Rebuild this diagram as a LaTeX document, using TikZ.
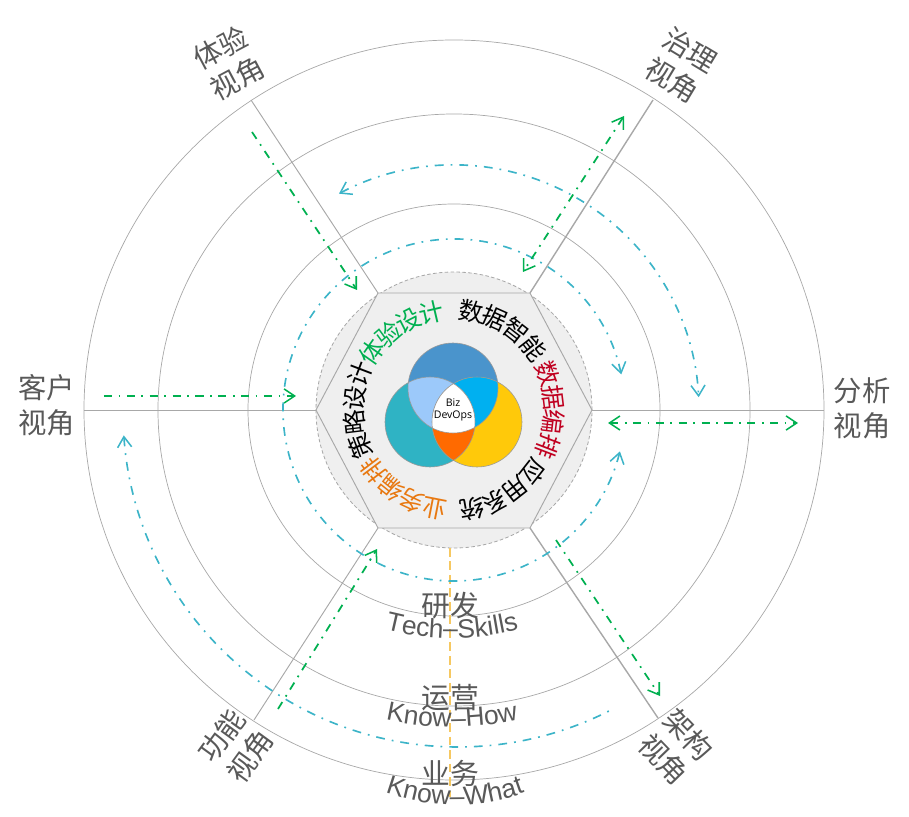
\documentclass[tikz,border=0pt]{standalone}
\usepackage{fontspec}
\setsansfont{Liberation Sans}
\newfontfamily\cjk{Noto Sans CJK SC}
\newfontfamily\venntext{Open Sans}
\usetikzlibrary{arrows.meta,decorations.text}

\definecolor{ringgray}{HTML}{A8A8A8}
\definecolor{lblgray}{HTML}{595959}
\definecolor{hexfill}{HTML}{EFEFEF}
\definecolor{arcteal}{HTML}{3CB4C8}
\definecolor{flowgreen}{HTML}{00B050}
\definecolor{axisorange}{HTML}{F6C861}
\definecolor{vennTop}{HTML}{4A94CC}
\definecolor{vennLeft}{HTML}{2FB3C4}
\definecolor{vennRight}{HTML}{FFC90A}
\definecolor{vennTL}{HTML}{9CC9FA}
\definecolor{vennTR}{HTML}{00B0F0}
\definecolor{vennLR}{HTML}{FF6A00}
\definecolor{txtgreen}{HTML}{00B050}
\definecolor{txtred}{HTML}{C00020}
\definecolor{txtorange}{HTML}{E87810}

\tikzset{
  ringline/.style={draw=ringgray, line width=0.6pt},
  spokeline/.style={draw=ringgray, line width=0.8pt},
  tealarc/.style={draw=arcteal, line width=1.4pt, dash pattern=on 7.5pt off 6pt on 1.5pt off 6pt},
  greenflow/.style={draw=flowgreen, line width=1.5pt, dash pattern=on 7pt off 5.5pt on 1.5pt off 5.5pt},
  barb/.style={{Straight Barb[length=9pt,width=12pt,line width=1.3pt]}-{Straight Barb[length=9pt,width=12pt,line width=1.3pt]}},
  viewlbl/.style={font=\cjk\fontsize{24.2}{29.8}\selectfont, text=lblgray, align=center, inner sep=0pt},
  levellbl/.style={font=\cjk\fontsize{24.6}{28}\selectfont, text=lblgray, inner sep=0pt},
  bizlbl/.style={font=\venntext\fontsize{9}{11}\selectfont, text=black, inner sep=0pt}
}

% label on the hexagon, clockwise round the centre
\newcommand{\hexlabel}[3]{
  \path[decorate, decoration={text along path, text align=center, raise=-8.5pt,
      text={|\cjk\fontsize{21}{24}\selectfont\color{#2}|#3}}]
    (#1+42:101) arc[start angle=#1+42, end angle=#1-42, radius=101];
}
% latin label on a shallow arc
\newcommand{\levelarc}[3]{
  \path[decorate, decoration={text along path, text align=center,
      text={|\sffamily\fontsize{22.6}{24}\selectfont\color{lblgray}|#3}}]
    #1 ++(230:#2) arc[start angle=230, end angle=310, radius=#2];
}

\begin{document}
\begin{tikzpicture}[x=0.03cm, y=0.03cm]
  \useasboundingbox (-454,410) rectangle (455,-406);

  %--- Rings ---
  \foreach \r in {206,296,370} {
    \draw[ringline] (0,0) circle[radius=\r];
  }

  %--- Hexagon corners and ends of the spokes ---
  \coordinate (hexW) at (-138,0);
  \coordinate (hexNW) at (-76,117);
  \coordinate (hexNE) at (76,117);
  \coordinate (hexE) at (138,0);
  \coordinate (hexSE) at (76,-118);
  \coordinate (hexSW) at (-76,-118);
  \coordinate (endW) at (-370,0);
  \coordinate (endNW) at (-203,310);
  \coordinate (endNE) at (199,310);
  \coordinate (endE) at (370,0);
  \coordinate (endSE) at (204,-308);
  \coordinate (endSW) at (-200,-310);
  \foreach \p in {W,NW,E,SW} {
    \draw[spokeline] (hex\p) -- (end\p);
  }
  \foreach \p in {NE,SE} {
    \draw[spokeline, line width=1.2pt] (hex\p) -- (end\p);
  }

  %--- Hub ---
  \draw[fill=hexfill, draw=ringgray, line width=0.7pt, dash pattern=on 3pt off 2pt] (0,0) circle[radius=138];
  \draw[spokeline, fill=hexfill] (hexW) -- (hexNW) -- (hexNE) -- (hexE) -- (hexSE) -- (hexSW) -- cycle;

  %--- Venn ---
  \def\vennT{(-1,22) circle[radius=45]}
  \def\vennL{(-24,-12) circle[radius=45]}
  \def\vennR{(23,-12) circle[radius=45]}
  \fill[vennTop] \vennT;
  \fill[vennLeft] \vennL;
  \fill[vennRight] \vennR;
  \begin{scope}
    \clip \vennT;
    \fill[vennTL] \vennL;
    \fill[vennTR] \vennR;
  \end{scope}
  \begin{scope}
    \clip \vennL;
    \fill[vennLR] \vennR;
    \clip \vennT;
    \fill[white] \vennR;
  \end{scope}
  \draw[gray!80, line width=0.5pt] \vennT;
  \draw[gray!80, line width=0.5pt] \vennL;
  \draw[gray!80, line width=0.5pt] \vennR;
  \node[bizlbl] (biz) at (-1,7) {Biz};
  \node[bizlbl] (devops) at (-1,-6) {DevOps};

  %--- Labels round the hexagon ---
  \hexlabel{124}{txtgreen}{体验设计}
  \hexlabel{59}{black}{数据智能}
  \hexlabel{0}{txtred}{数据编排}
  \hexlabel{-59}{black}{应用系统}
  \hexlabel{-122}{txtorange}{业务编排}
  \hexlabel{180}{black}{策略设计}

  %--- Vertical axis ---
  \coordinate (axisTop) at (-4,-138);
  \coordinate (axisEnd) at (-4,-387);
  \draw[axisorange, line width=1.4pt, dash pattern=on 7.5pt off 4pt] (axisTop) -- (axisEnd);

  %--- Teal arcs ---
  \draw[tealarc, barb] (12:171) arc[start angle=12, end angle=346, radius=171];
  \draw[tealarc, barb] (118:245) arc[start angle=118, end angle=3, radius=245];
  \draw[tealarc, {Straight Barb[length=9pt,width=12pt,line width=1.3pt]}-] (4,-2) ++(184:335) arc[start angle=184, end angle=297.6, radius=335];

  %--- Green flows ---
  \coordinate (flowAa) at (-202,278);
  \coordinate (flowAb) at (-97,120);
  \coordinate (flowBa) at (-350,14);
  \coordinate (flowBb) at (-158,14);
  \coordinate (flowCa) at (170,294);
  \coordinate (flowCb) at (69,138);
  \coordinate (flowDa) at (154,-13);
  \coordinate (flowDb) at (344,-13);
  \coordinate (flowEa) at (102,-130);
  \coordinate (flowEb) at (206,-286);
  \coordinate (flowFa) at (-176,-299);
  \coordinate (flowFb) at (-77,-139);
  \foreach \a/\b in {flowAa/flowAb,flowBa/flowBb,flowEa/flowEb,flowFa/flowFb} {
    \draw[greenflow, -{Straight Barb[length=9pt,width=12pt,line width=1.3pt]}] (\a) -- (\b);
  }
  \foreach \a/\b in {flowCa/flowCb,flowDa/flowDb} {
    \draw[greenflow, barb] (\a) -- (\b);
  }

  %--- View labels ---
  \node[viewlbl] (viewClient) at (-407,5) {客户\\视角};
  \node[viewlbl] (viewAnalysis) at (408,2) {分析\\视角};
  \node[viewlbl, rotate=28] (viewExperience) at (-225,347) {体验\\视角};
  \node[viewlbl, rotate=-31] (viewGovern) at (227,345) {治理\\视角};
  \node[viewlbl, rotate=54] (viewFunction) at (-218,-336) {功能\\视角};
  \node[viewlbl, rotate=-46] (viewArch) at (222,-337) {架构\\视角};

  %--- Level labels ---
  \node[levellbl] (levelTech) at (-4,-196) {研发};
  \levelarc{(-2,36)}{264}{Tech–Skills}
  \node[levellbl] (levelOps) at (-4,-288) {运营};
  \levelarc{(-2,-17)}{300}{Know–How}
  \node[levellbl] (levelBiz) at (-4,-363) {业务};
  \levelarc{(1,-195)}{200}{Know–What}

\end{tikzpicture}
\end{document}
